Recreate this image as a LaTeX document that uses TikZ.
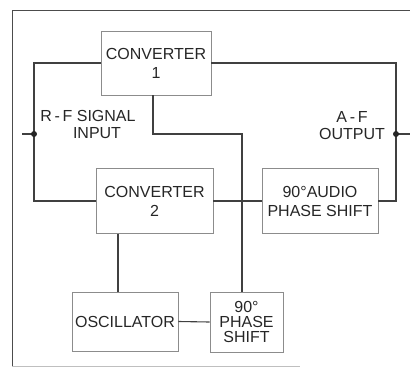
\documentclass[tikz,border=0pt]{standalone}
\usepackage{fontspec}
\newfontfamily\blockfont{Liberation Sans}
\usetikzlibrary{calc}

\begin{document}
\begin{tikzpicture}[
  x=1pt, y=-1pt,
  blockbox/.style={rectangle, draw=black!45, line width=0.8pt,
    text=black!85, align=center, inner sep=0pt,
    font=\blockfont\fontsize{16}{19}\selectfont},
  lbl/.style={text=black!85, align=center, inner sep=0pt,
    font=\blockfont\fontsize{16}{17}\selectfont},
  wire/.style={draw=black!75, line width=1.1pt},
  tap/.style={circle, fill=black!85, inner sep=0pt, minimum size=6pt}
]
\useasboundingbox (0,0) rectangle (410,367);

% frame
\draw[black!70, line width=1pt] (12,367) -- (12,10) -- (410,10);
\draw[black!25, line width=0.6pt] (12,366) -- (300,366);

% blocks
\node[blockbox, minimum width=110pt, minimum height=64pt] (conv1) at (156,63) {CONVERTER\\1};
\node[blockbox, minimum width=117pt, minimum height=65pt] (conv2) at (154.5,201) {CONVERTER\\2};
\node[blockbox, minimum width=116pt, minimum height=65pt] (audio) at (320,201) {90°AUDIO\\PHASE SHIFT};
\node[blockbox, minimum width=106pt, minimum height=59pt] (osc) at (125,321.5) {OSCILLATOR};
\node[blockbox, minimum width=73pt, minimum height=60pt,
  font=\blockfont\fontsize{16}{15}\selectfont] (shift) at (246.5,322) {90°\\PHASE\\SHIFT};

% input and output taps
\coordinate (rfin) at (34,134);
\coordinate (rfend) at (22,134);
\coordinate (afout) at (396,134);
\coordinate (afend) at (410,134);
\coordinate (bend) at (242,134);

\node[lbl] (rflbl) at (88,124) {R\,-\,F SIGNAL\\\hspace*{18pt}INPUT};
\node[lbl] (aflbl) at (352,126) {A\,-\,F\\OUTPUT};

% connectors
\draw[wire] (conv1.west) -| (rfin) |- (conv2.west);
\draw[wire] (conv1.east) -| (afout) |- (audio.east);
\draw[wire] (rfend) -- (rfin);
\draw[wire] (afout) -- (afend);
\draw[wire] ([xshift=-3]conv1.south) |- (bend) -- (bend |- shift.north);
\draw[wire] (conv2.east) -- (audio.west);
\draw[wire] ([xshift=-36.5]conv2.south) -- ([xshift=-7]osc.north);
\draw[wire] (osc.east) -- (shift.west);
\node[tap] at (rfin) {};
\node[tap] at (afout) {};

\end{tikzpicture}
\end{document}
